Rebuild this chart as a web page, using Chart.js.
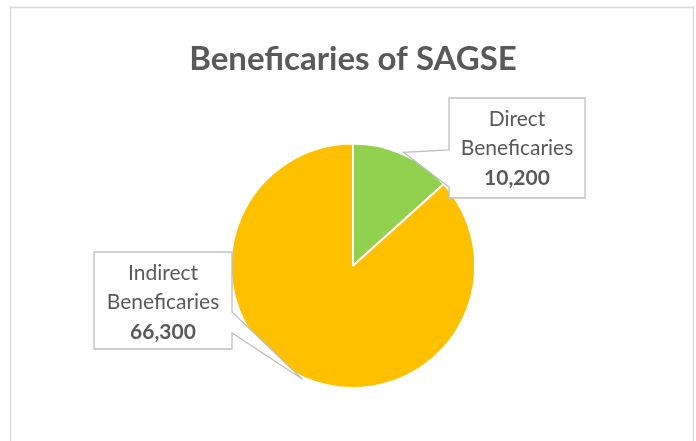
<!DOCTYPE html>
<html>
<head>
<meta charset="utf-8">
<script src="https://cdn.jsdelivr.net/npm/chart.js@4.4.1/dist/chart.umd.min.js"></script>
<style>
  html, body { margin: 0; padding: 0; background: #fff; }
  #wrap { width: 696px; height: 441px; }
</style>
</head>
<body>
<div id="wrap"><canvas id="myChart"></canvas></div>
<script>
var categories = ['Direct Beneficaries', 'Indirect Beneficaries'];
var labelLines = [['Direct', 'Beneficaries'], ['Indirect', 'Beneficaries']];
var values = [10200, 66300];
var sliceColors = ["#92D050", "#FFC000"];

// callout boxes: rect + where the pointer attaches on the box side
var callouts = [
    { left: 449, top: 98, right: 585, bottom: 198, side: 'left', a1: 150, a2: 187 },
    { left: 94, top: 252, right: 232, bottom: 349, side: 'right', a1: 312, a2: 333 }
];

var frame = {
    id: 'frame',
    beforeDraw: function(chart) {
        var ctx = chart.ctx;
        ctx.save();
        ctx.fillStyle = '#fff';
        ctx.fillRect(0, 0, chart.width, chart.height);
        ctx.strokeStyle = '#d9d9d9';
        ctx.lineWidth = 1.5;
        ctx.strokeRect(10.5, 7.5, 683, 440);
        ctx.restore();
    }
};

var calloutPlugin = {
    id: 'callouts',
    afterDatasetsDraw: function(chart) {
        var ctx = chart.ctx;
        var arcs = chart.getDatasetMeta(0).data;
        ctx.save();
        arcs.forEach(function(arc, i) {
            var c = callouts[i];
            var mid = (arc.startAngle + arc.endAngle) / 2;
            var r = arc.outerRadius + 2;
            var tx = arc.x + Math.cos(mid) * r;
            var ty = arc.y + Math.sin(mid) * r;
            ctx.beginPath();
            if (c.side === 'left') {
                ctx.moveTo(c.left, c.top);
                ctx.lineTo(c.right, c.top);
                ctx.lineTo(c.right, c.bottom);
                ctx.lineTo(c.left, c.bottom);
                ctx.lineTo(c.left, c.a2);
                ctx.lineTo(tx, ty);
                ctx.lineTo(c.left, c.a1);
            } else {
                ctx.moveTo(c.left, c.top);
                ctx.lineTo(c.right, c.top);
                ctx.lineTo(c.right, c.a1);
                ctx.lineTo(tx, ty);
                ctx.lineTo(c.right, c.a2);
                ctx.lineTo(c.right, c.bottom);
                ctx.lineTo(c.left, c.bottom);
            }
            ctx.closePath();
            ctx.fillStyle = '#fff';
            ctx.fill();
            ctx.strokeStyle = '#bfbfbf';
            ctx.lineWidth = 1.3;
            ctx.stroke();

            var cx = (c.left + c.right) / 2;
            var y0 = c.top + 21;
            ctx.fillStyle = '#595959';
            ctx.textAlign = 'center';
            ctx.textBaseline = 'middle';
            ctx.font = '21px Lato';
            ctx.fillText(labelLines[i][0], cx, y0);
            ctx.fillText(labelLines[i][1], cx, y0 + 29.5);
            ctx.font = 'bold 21px Lato';
            ctx.fillText(values[i].toLocaleString('en-US'), cx, y0 + 59);
        });
        ctx.restore();
    }
};

new Chart("myChart", {
    type: "pie",
    data: {
        labels: categories,
        datasets: [{
            backgroundColor: sliceColors,
            borderColor: '#fff',
            borderWidth: 2,
            data: values
        }]
    },
    options: {
        responsive: true,
        maintainAspectRatio: false,
        animation: false,
        layout: { padding: { top: 0, bottom: 52, left: 10, right: 0 } },
        plugins: {
            legend: { display: false },
            tooltip: { enabled: false },
            title: {
                display: true,
                text: "Beneficaries of SAGSE",
                color: '#595959',
                font: { family: 'Lato', size: 33, weight: 'bold', lineHeight: 1.2 },
                padding: { top: 40, bottom: 63 }
            }
        }
    },
    plugins: [frame, calloutPlugin]
});
</script>
</body>
</html>
